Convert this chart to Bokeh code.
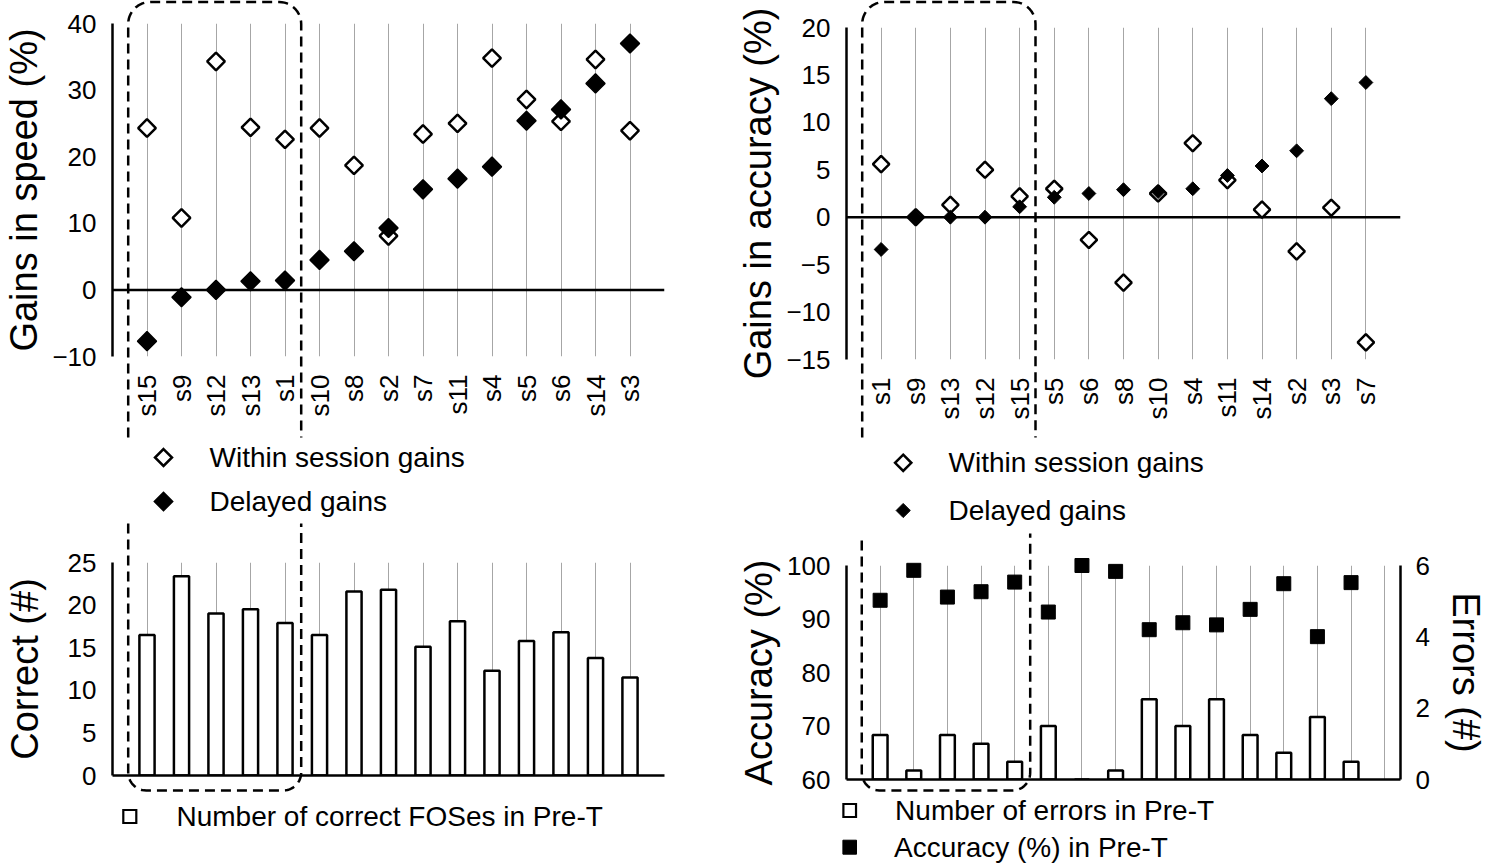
import numpy as np
from bokeh.plotting import figure
from bokeh.models import Range1d, LinearAxis, FixedTicker, Span
from bokeh.core.properties import value
from bokeh.layouts import row, column
from bokeh.embed import file_html
from bokeh.resources import INLINE

FONT = "Liberation Sans"

# ---------------- data ----------------
speed_subjects = ["s15", "s9", "s12", "s13", "s1", "s10", "s8", "s2", "s7", "s11", "s4", "s5", "s6", "s14", "s3"]
speed_within = [24.3, 10.8, 34.3, 24.4, 22.6, 24.3, 18.7, 8.1, 23.4, 25.0, 34.8, 28.6, 25.3, 34.6, 23.9]
speed_delayed = [-7.7, -1.1, 0.0, 1.3, 1.4, 4.5, 5.8, 9.3, 15.1, 16.7, 18.5, 25.4, 27.1, 31.0, 37.0]
correct_pre = [16.5, 23.4, 19.0, 19.5, 17.9, 16.5, 21.6, 21.8, 15.1, 18.1, 12.3, 15.8, 16.8, 13.8, 11.5]

acc_subjects = ["s1", "s9", "s13", "s12", "s15", "s5", "s6", "s8", "s10", "s4", "s11", "s14", "s2", "s3", "s7"]
acc_within = [5.6, 0.0, 1.3, 5.0, 2.2, 3.0, -2.4, -6.9, 2.5, 7.8, 3.9, 0.8, -3.6, 1.0, -13.2]
acc_delayed = [-3.4, 0.0, 0.0, 0.0, 1.1, 2.1, 2.5, 2.9, 2.7, 3.0, 4.4, 5.4, 7.0, 12.5, 14.2]
errors_pre = [1.25, 0.25, 1.25, 1.0, 0.5, 1.5, 0.0, 0.25, 2.25, 1.5, 2.25, 1.25, 0.75, 1.75, 0.5]
accuracy_pre = [93.5, 99.1, 94.1, 95.1, 96.9, 91.3, 100.0, 98.9, 88.0, 89.3, 88.9, 91.8, 96.6, 86.7, 96.8]

speed_ticks = [-10, 0, 10, 20, 30, 40]
accgain_ticks = [-15, -10, -5, 0, 5, 10, 15, 20]
correct_ticks = [0, 5, 10, 15, 20, 25]
accuracy_ticks = [60, 70, 80, 90, 100]
errors_ticks = [0, 2, 4, 6]

legend_within = "Within session gains"
legend_delayed = "Delayed gains"
legend_correct = "Number of correct FOSes in Pre-T"
legend_errors = "Number of errors in Pre-T"
legend_accuracy = "Accuracy (%) in Pre-T"

x_speed = list(range(1, len(speed_subjects) + 1))
x_acc = list(range(1, len(acc_subjects) + 1))

GRID = "#a6a6a6"


def minus(v):
    return str(v).replace("-", "\u2212")


def make_fig(width, height, borders, x_end, y_rng):
    l, t, r, b = borders
    p = figure(width=width, height=height, x_range=Range1d(0, x_end), y_range=Range1d(*y_rng),
               output_backend="svg", toolbar_location=None, title=None,
               min_border_left=l, min_border_top=t, min_border_right=r, min_border_bottom=b)
    p.outline_line_color = None
    p.background_fill_color = "white"
    p.border_fill_color = "white"
    p.ygrid.visible = False
    p.xgrid.ticker = FixedTicker(ticks=list(range(1, 17)))
    p.xgrid.grid_line_color = GRID
    p.xgrid.grid_line_width = 1
    return p


def style_yaxis(ax, ticks, label, standoff=16, label_standoff=4):
    ax.ticker = FixedTicker(ticks=ticks)
    ax.major_label_overrides = {t: minus(t) for t in ticks if t < 0}
    ax.major_tick_line_color = None
    ax.minor_tick_line_color = None
    ax.major_tick_out = 0
    ax.axis_line_color = "black"
    ax.axis_line_width = 2.5
    ax.major_label_text_font = FONT
    ax.major_label_text_font_size = "26px"
    ax.major_label_text_color = "black"
    ax.major_label_standoff = standoff
    ax.axis_label = label
    ax.axis_label_text_font = FONT
    ax.axis_label_text_font_size = "38px"
    ax.axis_label_text_font_style = "normal"
    ax.axis_label_text_color = "black"
    ax.axis_label_standoff = label_standoff


def style_xaxis_labels(ax, names):
    ax.ticker = FixedTicker(ticks=list(range(1, len(names) + 1)))
    ax.major_label_overrides = {i + 1: s for i, s in enumerate(names)}
    ax.major_label_orientation = np.pi / 2
    ax.axis_line_color = None
    ax.major_tick_line_color = None
    ax.minor_tick_line_color = None
    ax.major_tick_out = 0
    ax.major_label_text_font = FONT
    ax.major_label_text_font_size = "26px"
    ax.major_label_text_color = "black"
    ax.major_label_standoff = 18


def style_xaxis_plain(ax):
    ax.ticker = FixedTicker(ticks=[])
    ax.axis_line_color = "black"
    ax.axis_line_width = 2.5
    ax.major_tick_line_color = None
    ax.minor_tick_line_color = None


def to_data(frame, px, py):
    left, top, w, h, x0, x1, y0, y1 = frame
    return x0 + (px - left) / w * (x1 - x0), y1 - (py - top) / h * (y1 - y0)


def dashed_u(p, frame, xl, xr, yl_end, yr_end, y_edge, r, top=True, n=14):
    pts = [(xl, yl_end)]
    if top:
        c = y_edge + r
        for th in np.linspace(np.pi, np.pi / 2, n):
            pts.append((xl + r + r * np.cos(th), c - r * np.sin(th)))
        for th in np.linspace(np.pi / 2, 0, n):
            pts.append((xr - r + r * np.cos(th), c - r * np.sin(th)))
    else:
        c = y_edge - r
        for th in np.linspace(np.pi, 1.5 * np.pi, n):
            pts.append((xl + r + r * np.cos(th), c - r * np.sin(th)))
        for th in np.linspace(1.5 * np.pi, 2 * np.pi, n):
            pts.append((xr - r + r * np.cos(th), c - r * np.sin(th)))
    pts.append((xr, yr_end))
    xs, ys = zip(*[to_data(frame, a, b) for a, b in pts])
    p.line(list(xs), list(ys), line_color="black", line_width=2.5, line_dash="10 6", level="overlay")


def legend_entry(p, frame, gx, gy, tx, label, shape, size, fill, lw):
    if shape == "diamond":
        d = size / np.sqrt(2)
        offs = [(0, -d), (d, 0), (0, d), (-d, 0)]
    else:
        h = size / 2
        offs = [(-h, -h), (h, -h), (h, h), (-h, h)]
    pts = [to_data(frame, gx + dx, gy + dy) for dx, dy in offs]
    p.patch([q[0] for q in pts], [q[1] for q in pts], fill_color=fill, line_color="black",
            line_width=lw, line_join="miter", level="overlay")
    xt, yt = to_data(frame, tx, gy)
    p.text([xt], [yt], text=[label], text_font=value(FONT), text_font_size="28px",
           text_baseline="middle", text_align="left", text_color="black", level="overlay")


OPEN_DIA = dict(marker="square", angle=np.pi / 4, size=12.5, fill_color="white", line_color="black", line_width=2.5)
FILL_DIA = dict(marker="square", angle=np.pi / 4, size=13.5, fill_color="black", line_color="black", line_width=1.5)
OPEN_DIA_S = dict(marker="square", angle=np.pi / 4, size=11.6, fill_color="white", line_color="black", line_width=2.5)
FILL_DIA_S = dict(marker="square", angle=np.pi / 4, size=9.8, fill_color="black", line_color="black", line_width=1)
FILL_SQ = dict(marker="square", size=14, fill_color="black", line_color="black", line_width=1)

# ---------------- panel 1 : gains in speed ----------------
F1 = (112, 23, 552, 333, 0, 16, -10, 40)
p1 = make_fig(730, 517, (112, 23, 66, 161), 16, (-10, 40))
style_yaxis(p1.yaxis[0], speed_ticks, "Gains in speed (%)")
style_xaxis_labels(p1.xaxis[0], speed_subjects)
p1.add_layout(Span(location=0, dimension="width", line_color="black", line_width=2.5))
p1.scatter(x_speed, speed_within, **OPEN_DIA)
p1.scatter(x_speed, speed_delayed, **FILL_DIA)
dashed_u(p1, F1, 127.7, 300.7, 437, 437, 1.5, 22, top=True)
legend_entry(p1, F1, 163, 457, 209, legend_within, "diamond", 12, "white", 2.5)
legend_entry(p1, F1, 163, 501, 209, legend_delayed, "diamond", 13, "black", 1.5)

# ---------------- panel 2 : correct ----------------
F2 = (112, 562, 552, 213, 0, 16, 0, 25)
p2 = make_fig(730, 349, (112, 45, 66, 91), 16, (0, 25))
style_yaxis(p2.yaxis[0], correct_ticks, "Correct (#)", label_standoff=19)
style_xaxis_plain(p2.xaxis[0])
p2.vbar(x=x_speed, top=correct_pre, width=0.44, bottom=0, fill_color="white",
        line_color="black", line_width=2.5)
dashed_u(p2, F2, 127.7, 300.7, 523, 523, 790, 18, top=False)
legend_entry(p2, F2, 129.3, 816, 176, legend_correct, "square", 13, "white", 2.2)

# ---------------- panel 3 : gains in accuracy ----------------
F3 = (846, 27, 554, 332, 0, 16, -15, 20)
p3 = make_fig(772, 530, (116, 27, 102, 171), 16, (-15, 20))
style_yaxis(p3.yaxis[0], accgain_ticks, "Gains in accuracy (%)")
style_xaxis_labels(p3.xaxis[0], acc_subjects)
p3.add_layout(Span(location=0, dimension="width", line_color="black", line_width=2.5))
p3.scatter(x_acc, acc_within, **OPEN_DIA_S)
p3.scatter(x_acc, acc_delayed, **FILL_DIA_S)
dashed_u(p3, F3, 861.7, 1035, 437, 437, 1.5, 22, top=True)
legend_entry(p3, F3, 902.7, 462.3, 948, legend_within, "diamond", 11.5, "white", 2.5)
legend_entry(p3, F3, 902.7, 510, 948, legend_delayed, "diamond", 10, "black", 1)

# ---------------- panel 4 : accuracy / errors ----------------
F4 = (846, 565, 570, 214, 0, 16.47, 60, 100)
p4 = make_fig(772, 336, (116, 35, 86, 87), 16.47, (60, 100))
style_yaxis(p4.yaxis[0], accuracy_ticks, "Accuracy (%)")
style_xaxis_plain(p4.xaxis[0])
p4.extra_y_ranges = {"err": Range1d(0, 6)}
rax = LinearAxis(y_range_name="err")
style_yaxis(rax, errors_ticks, "Errors (#)", standoff=15, label_standoff=12)
p4.add_layout(rax, "right")
p4.vbar(x=x_acc, top=errors_pre, width=0.44, bottom=0, y_range_name="err",
        fill_color="white", line_color="black", line_width=2.5)
p4.scatter(x_acc, accuracy_pre, level="overlay", **FILL_SQ)
dashed_u(p4, F4, 861.7, 1035, 540, 533, 790, 18, top=False)
legend_entry(p4, F4, 849.3, 810, 896, legend_errors, "square", 13, "white", 2.2)
legend_entry(p4, F4, 849.3, 846.7, 895, legend_accuracy, "square", 14, "black", 1)

layout = row(column(p1, p2), column(p3, p4))
open("out.html", "w").write(file_html(layout, INLINE))
